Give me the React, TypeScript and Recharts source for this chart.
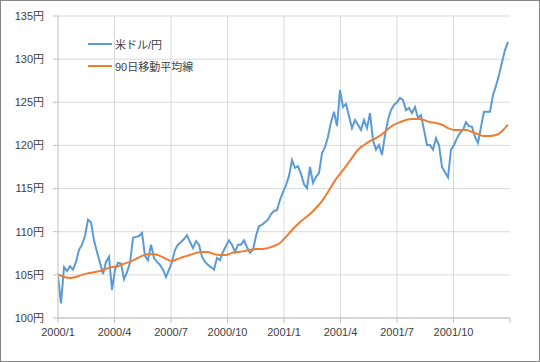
import React from "react";
import { LineChart, Line, XAxis, YAxis, CartesianGrid, ReferenceLine } from "recharts";

// Quarter ticks (months since 2000/1) and their labels
const quarterTicks = [0, 3, 6, 9, 12, 15, 18, 21, 24];
const quarterLabels = ["2000/1", "2000/4", "2000/7", "2000/10", "2001/1", "2001/4", "2001/7", "2001/10", ""];
const yTicks = [100, 105, 110, 115, 120, 125, 130, 135];

// USD/JPY, sampled roughly every 5 calendar days from 2000/1 to 2001/12
const usdJpy = [
  104.9, 101.7, 105.9, 105.45, 106.0, 105.6, 106.5, 107.9, 108.5, 109.5,
  111.4, 111.1, 109.0, 107.65, 106.4, 105.1, 106.5, 107.1, 103.25, 105.6,
  106.4, 106.3, 104.5, 105.3, 106.4, 109.3, 109.4, 109.5, 109.85, 107.2,
  106.7, 108.5, 106.95, 106.5, 106.15, 105.6, 104.75, 105.6, 106.5, 107.9,
  108.5, 108.8, 109.15, 109.6, 108.8, 108.1, 108.9, 108.5, 107.1, 106.5,
  106.15, 105.9, 105.6, 106.95, 106.7, 107.65, 108.35, 109.0, 108.5, 107.65,
  108.5, 108.5, 109.0, 108.2, 107.55, 107.9, 109.5, 110.65, 110.8, 111.1,
  111.4, 112.05, 112.4, 112.5, 113.7, 114.6, 115.4, 116.45, 118.3, 117.4,
  117.6, 116.7, 115.5, 115.05, 117.5, 115.65, 116.35, 116.8, 119.1, 119.8,
  121.0, 122.7, 123.9, 122.25, 126.4, 124.45, 124.8, 123.4, 122.0, 122.95,
  122.4, 121.8, 122.95, 122.0, 123.75, 120.6, 119.5, 120.05, 118.9, 121.2,
  122.95, 124.1, 124.7, 125.0, 125.5, 125.25, 124.1, 124.35, 123.75, 124.45,
  123.2, 123.5, 121.8, 120.05, 120.05, 119.5, 120.85, 120.05, 117.5, 116.9,
  116.3, 119.5, 120.05, 120.85, 121.45, 121.8, 122.7, 122.25, 122.15, 121.0,
  120.3, 122.15, 123.9, 123.9, 123.9, 125.85, 126.9, 128.15, 129.65, 131.05,
  132.0,
];

// 90-day moving average, read every other sample
const ma90 = [
  105.1, 104.75, 104.65, 104.75, 105.0, 105.2, 105.3, 105.45, 105.7, 105.9,
  106.0, 106.3, 106.5, 106.85, 107.2, 107.4, 107.4, 107.2, 106.85, 106.6,
  106.85, 107.1, 107.3, 107.55, 107.65, 107.65, 107.4, 107.3, 107.3, 107.55,
  107.65, 107.75, 107.9, 108.0, 108.0, 108.1, 108.35, 108.7, 109.4, 110.2,
  110.9, 111.5, 112.05, 112.75, 113.55, 114.6, 115.75, 116.7, 117.6, 118.55,
  119.5, 120.05, 120.5, 120.85, 121.3, 121.9, 122.4, 122.7, 122.95, 123.05,
  123.05, 122.95, 122.7, 122.6, 122.4, 122.0, 121.8, 121.8, 121.8, 121.55,
  121.3, 121.1, 121.1, 121.2, 121.65, 122.4,
];

const MONTHS_PER_SAMPLE = 24 / 150.67;

const data = usdJpy.map((v, i) => ({
  m: i * MONTHS_PER_SAMPLE,
  usd: v,
  ma: i % 2 === 0 ? ma90[i / 2] : null,
}));

const BLUE = "#5b9bd5";
const ORANGE = "#ed7d31";
const TEXT = "#404040";
const FONT = "'Liberation Sans', 'Noto Sans CJK JP', sans-serif";

const legendItems = [
  { c: BLUE, t: "米ドル/円" },
  { c: ORANGE, t: "90日移動平均線" },
];

const LegendBox = () => (
  <div
    style={{
      position: "absolute",
      left: 88,
      top: 33,
      fontFamily: FONT,
      fontSize: 11,
      color: TEXT,
      pointerEvents: "none",
    }}
  >
    {legendItems.map((r) => (
      <div key={r.t} style={{ display: "flex", alignItems: "center", height: 22 }}>
        <svg width={24} height={4} style={{ display: "block" }}>
          <line x1={0} y1={2} x2={24} y2={2} stroke={r.c} strokeWidth={2} />
        </svg>
        <span style={{ marginLeft: 3, whiteSpace: "nowrap" }}>{r.t}</span>
      </div>
    ))}
  </div>
);

export default function App() {
  return (
    <div style={{ position: "relative", width: 540, height: 362, background: "#fff" }}>
      <style>{"body{margin:0}"}</style>
      <LineChart
        width={540}
        height={362}
        data={data}
        margin={{ top: 16, right: 30, left: 0, bottom: 14 }}
        style={{ fontFamily: FONT }}
      >
        <CartesianGrid vertical={false} stroke="#d9d9d9" />
        {quarterTicks.slice(1, -1).map((t) => (
          <ReferenceLine key={t} x={t} stroke="#d9d9d9" />
        ))}
        <XAxis
          type="number"
          dataKey="m"
          domain={[0, 24]}
          ticks={quarterTicks}
          interval={0}
          tickFormatter={(v: number) => quarterLabels[quarterTicks.indexOf(v)] ?? ""}
          stroke="#bfbfbf"
          tickSize={5}
          tickMargin={5}
          height={30}
          tick={{ fill: TEXT, fontSize: 11 }}
          allowDataOverflow
        />
        <YAxis
          type="number"
          domain={[100, 135]}
          ticks={yTicks}
          interval={0}
          tickFormatter={(v: number) => `${v}円`}
          stroke="#bfbfbf"
          tickSize={5}
          tickMargin={9}
          width={58}
          tick={{ fill: TEXT, fontSize: 11 }}
          allowDataOverflow
        />
        <Line
          type="linear"
          dataKey="usd"
          stroke={BLUE}
          strokeWidth={2}
          dot={false}
          isAnimationActive={false}
        />
        <Line
          type="monotone"
          dataKey="ma"
          stroke={ORANGE}
          strokeWidth={2}
          dot={false}
          connectNulls
          isAnimationActive={false}
        />
      </LineChart>
      <LegendBox />
      <div
        style={{
          position: "absolute",
          left: 0,
          top: 0,
          width: 540,
          height: 362,
          boxSizing: "border-box",
          border: "1px solid #868686",
          pointerEvents: "none",
        }}
      />
    </div>
  );
}
